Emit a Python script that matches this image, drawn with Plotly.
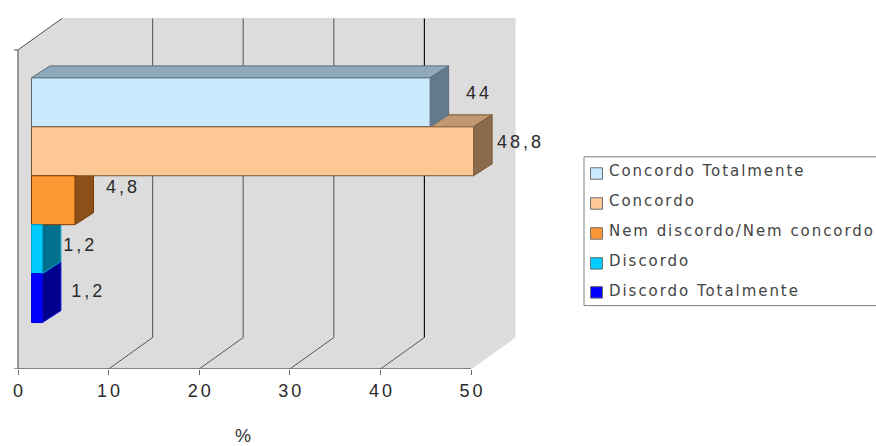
import plotly.graph_objects as go

# Survey answers, percent of respondents
categories = ["Concordo Totalmente", "Concordo", "Nem discordo/Nem concordo", "Discordo", "Discordo Totalmente"]
values = [44, 48.8, 4.8, 1.2, 1.2]
x_ticks = [0, 10, 20, 30, 40, 50]

front_colors = ["#c9e9fd", "#fdc896", "#fb9833", "#00ccff", "#0000ff"]
top_colors = ["#8ea8bd", "#c09872", "#a8641f", "#0088aa", "#0000a0"]
side_colors = ["#647a8c", "#8a6b4e", "#8c5118", "#00708c", "#00008c"]
edge_colors = ["#5a6a78", "#7a5630", "#7a3c08", "#00a0cc", "#0000d0"]

W, H = 876, 446
AXIS_LEFT, PX_PER_UNIT = 18.0, 9.06   # pixel of x=0 and pixels per percent
FLOOR_PX, FIRST_BAR_PX, BAR_PX = 369.5, 102.5, 49.0

x_range = [-AXIS_LEFT / PX_PER_UNIT, (W - AXIS_LEFT) / PX_PER_UNIT]
y_top, y_floor = -FIRST_BAR_PX / BAR_PX, (FLOOR_PX - FIRST_BAR_PX) / BAR_PX

# Oblique projection offsets, in axis units
wall_dx, wall_dy = 44 / PX_PER_UNIT, 31.5 / BAR_PX
bar_dx, bar_dy = 18.5 / PX_PER_UNIT, 12 / BAR_PX
bar_base = 13.5 / PX_PER_UNIT
wall_top = y_floor - 319.5 / BAR_PX  # top edge of the left wall
label_nudges = [(29, -8), (27, -8), (28, -12), (18, -3), (26, -6)]

fig = go.Figure()


def poly(xs, ys, color, z, line=None):
    fig.add_trace(go.Scatter(x=xs, y=ys, mode="lines", fill="toself", fillcolor=color,
                             line=dict(color=line or color, width=1), hoverinfo="skip",
                             showlegend=False, zorder=z))


def stroke(xs, ys, color="#666666", width=1.2, z=0, dash="solid"):
    fig.add_trace(go.Scatter(x=xs, y=ys, mode="lines", line=dict(color=color, width=width, dash=dash),
                             hoverinfo="skip", showlegend=False, zorder=z))


# Walls and floor of the box
poly([0, wall_dx, 50 + wall_dx, 50 + wall_dx, 50, 0, 0],
     [wall_top, wall_top - wall_dy, wall_top - wall_dy, y_floor - wall_dy, y_floor, y_floor, wall_top],
     "#dcdcdc", 0)

# Gridlines run up the back wall and forward across the floor
for t in x_ticks[1:-1]:
    color = "#111111" if t == 40 else "#666666"
    stroke([t + wall_dx, t + wall_dx], [wall_top - wall_dy, y_floor - wall_dy], color=color)
    stroke([t, t + wall_dx], [y_floor, y_floor - wall_dy], color="#555555", width=1)

# Frame lines: left edge, top-left diagonal, x axis line and small left ticks
stroke([0, 0], [wall_top, y_floor])
stroke([0, wall_dx], [wall_top, wall_top - wall_dy], color="#555555", width=1)
stroke([0, 50], [y_floor, y_floor], width=1.5)
for y in (wall_top, y_floor):
    stroke([-4 / PX_PER_UNIT, 0], [y, y])

# Top and end faces, lowest bar first so the bar above covers the one below,
# all of them behind the front faces
for i, v in reversed(list(enumerate(values))):
    end = bar_base + v
    poly([bar_base, bar_base + bar_dx, end + bar_dx, end],
         [i - .5, i - .5 - bar_dy, i - .5 - bar_dy, i - .5],
         top_colors[i], 1, edge_colors[i])
    poly([end, end + bar_dx, end + bar_dx, end],
         [i - .5, i - .5 - bar_dy, i + .5 - bar_dy, i + .5],
         side_colors[i], 1, edge_colors[i])

# Front faces
for i, (cat, v) in enumerate(zip(categories, values)):
    fig.add_trace(go.Bar(y=[i], x=[v], base=[bar_base], width=[1], orientation="h", name=cat,
                         marker=dict(color=front_colors[i], line=dict(color=edge_colors[i], width=1)),
                         showlegend=False, zorder=2, hovertemplate="%{x}<extra>" + cat + "</extra>"))

# Value labels with decimal comma
fig.add_trace(go.Scatter(
    x=[bar_base + v + bar_dx + nx / PX_PER_UNIT for v, (nx, _) in zip(values, label_nudges)],
    y=[i + ny / BAR_PX for i, (_, ny) in enumerate(label_nudges)],
    mode="text", text=[f"{v:g}".replace(".", ",") for v in values],
    textposition="middle center", textfont=dict(family="Liberation Sans", size=18, color="#2a2a2a"),
    hoverinfo="skip", showlegend=False, cliponaxis=False, zorder=3))


def px(x, y):
    return x / W, (H - 76.5 - y) / (H - 76.5)


# Legend frame, open at the right page edge
lx0, ly0 = px(584, 157)
lx1, ly1 = px(W + 4, 306)
shapes = [dict(type="rect", xref="paper", yref="paper", x0=lx0, y0=ly0, x1=lx1, y1=ly1,
               line=dict(color="#808080", width=1), fillcolor="white")]
annotations = []
text_rows = [171, 201.5, 231.5, 261, 291]
swatch_tops = [168, 198, 228, 258, 287]
for cat, color, row, top in zip(categories, front_colors, text_rows, swatch_tops):
    a0, b0 = px(590.5, top)
    a1, b1 = px(602.5, top + 11.5)
    shapes.append(dict(type="rect", xref="paper", yref="paper", x0=a0, y0=b0, x1=a1, y1=b1,
                       line=dict(color="#707070", width=1), fillcolor=color))
    tx, ty = px(607, row)
    annotations.append(dict(xref="paper", yref="paper", x=tx, y=ty, text=cat, showarrow=False,
                            xanchor="left", yanchor="middle",
                            font=dict(family="DejaVu Sans", size=15, color="#444444")))

# Unit label under the axis
annotations.append(dict(xref="x", yref="paper", x=(243 - AXIS_LEFT) / PX_PER_UNIT, y=px(0, 437)[1],
                        text="%", showarrow=False, yanchor="middle",
                        font=dict(family="Liberation Sans", size=18, color="#333333")))

fig.update_layout(
    width=W, height=H, margin=dict(l=0, r=0, t=0, b=76.5, autoexpand=False),
    paper_bgcolor="white", plot_bgcolor="white", showlegend=False, barmode="overlay",
    shapes=shapes, annotations=annotations,
    xaxis=dict(range=x_range, tickvals=x_ticks, ticks="outside", ticklen=5, tickcolor="#666666",
               showgrid=False, zeroline=False, showline=False, ticklabelstandoff=0,
               tickfont=dict(family="Liberation Sans", size=18, color="#2a2a2a")),
    yaxis=dict(range=[y_floor, y_top], visible=False, showgrid=False, zeroline=False),
)

# The chart's text is set with wide tracking; legend entries keep their left edge
tracking = """
var root = document.getElementById('{plot_id}');
root.querySelectorAll('.xtick text, .textpoint text').forEach(function (t) {
  t.style.letterSpacing = '3px';
  t.setAttribute('dx', '1.5');
});
root.querySelectorAll('.annotation-text').forEach(function (t) {
  if (t.textContent.length > 1) {
    var left = t.getBoundingClientRect().left;
    t.style.letterSpacing = '1.95px';
    var moved = t.getBoundingClientRect().left - left;
    t.setAttribute('x', parseFloat(t.getAttribute('x')) - moved);
  }
});
"""

fig.write_html("out.html", config={"displayModeBar": False}, post_script=tracking)
